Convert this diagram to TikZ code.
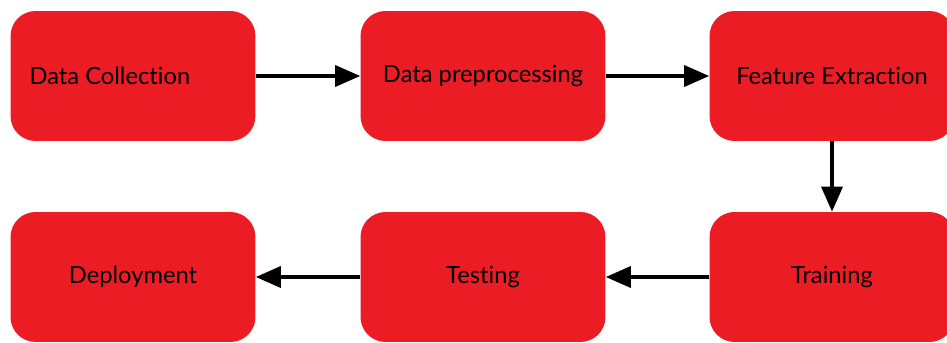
\documentclass[tikz,border=0pt]{standalone}
\usepackage{fontspec}
\setmainfont{Lato}[Ligatures={NoCommon}]
\usepackage{xcolor}
\usetikzlibrary{positioning,arrows.meta}
\definecolor{boxred}{RGB}{236,28,36}

\begin{document}
\begin{tikzpicture}[x=0.02cm, y=-0.02cm,
    stage/.style={fill=boxred, rounded corners=0.5cm, minimum width=4.9cm, minimum height=2.6cm,
        font=\fontsize{13.5}{16}\selectfont, text=black},
    flow/.style={-{Triangle[length=0.5cm,width=0.42cm]}, line width=0.07cm}]
    \useasboundingbox (0,0) rectangle (947,342);

    % Top row
    \node[stage, text width=4.14cm, inner xsep=0.38cm, align=flush left] (collect) at (133,76) {Data Collection};
    \node[stage] (prep) at (483,76) {Data preprocessing};
    \node[stage] (feat) at (832,76) {Feature Extraction};

    % Bottom row
    \node[stage] (train) at (832,277) {Training};
    \node[stage] (test) at (483,277) {Testing};
    \node[stage] (deploy) at (133,277) {Deployment};

    \draw[flow] (collect) -- (prep);
    \draw[flow] (prep) -- (feat);
    \draw[flow] (feat) -- (train);
    \draw[flow] (train) -- (test);
    \draw[flow] (test) -- (deploy);
\end{tikzpicture}
\end{document}
